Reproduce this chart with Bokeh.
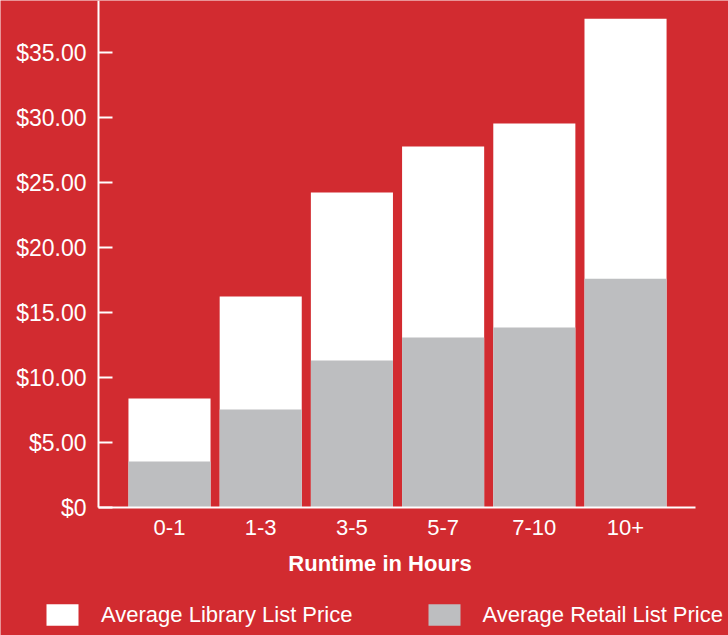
from bokeh.plotting import figure
from bokeh.models import Range1d, FixedTicker, Legend, LegendItem, Label, LinearAxis
from bokeh.embed import file_html
from bokeh.resources import INLINE

categories = ["0-1", "1-3", "3-5", "5-7", "7-10", "10+"]
library_price = [8.38, 16.23, 24.23, 27.77, 29.54, 37.6]
retail_price = [3.54, 7.54, 11.3, 13.08, 13.85, 17.6]
y_ticks = [0, 5, 10, 15, 20, 25, 30, 35]
y_tick_labels = ["$0", "$5.00", "$10.00", "$15.00", "$20.00", "$25.00", "$30.00", "$35.00"]

RED = "#D22B30"
GREY = "#BDBEC0"
FONT = "Liberation Sans"

xs = list(range(len(categories)))

# frame covers the whole canvas; axes are pinned inside it
X0, X1 = -1.853, 6.129
Y0, Y1 = -9.846, 39.0
X_AXIS_LEFT, X_AXIS_RIGHT = -0.7785, 5.7675

p = figure(width=728, height=635, output_backend="svg", toolbar_location=None,
           x_range=Range1d(X0, X1), y_range=Range1d(Y0, Y1),
           x_axis_location=None, y_axis_location=None)
p.min_border_left = 0
p.min_border_right = 0
p.min_border_top = 0
p.min_border_bottom = 0
p.background_fill_color = RED
p.border_fill_color = RED
p.outline_line_color = None
p.xgrid.grid_line_color = None
p.ygrid.grid_line_color = None

r_lib = p.vbar(x=xs, top=library_price, width=0.9, fill_color="white", line_color=None)
r_ret = p.vbar(x=xs, top=retail_price, width=0.9, fill_color=GREY, line_color=None)

ya = LinearAxis(fixed_location=X_AXIS_LEFT, bounds=(0, Y1))
ya.ticker = FixedTicker(ticks=y_ticks)
ya.major_label_overrides = {t: l for t, l in zip(y_ticks, y_tick_labels)}
ya.axis_line_color = "white"
ya.axis_line_width = 2
ya.major_tick_line_color = "white"
ya.major_tick_line_width = 2
ya.major_tick_in = 14
ya.major_tick_out = 0
ya.minor_tick_line_color = None
ya.major_label_standoff = 12
ya.major_label_text_color = "white"
ya.major_label_text_font = FONT
ya.major_label_text_font_size = "23px"
p.add_layout(ya, "left")

xa = LinearAxis(fixed_location=0, bounds=(X_AXIS_LEFT, X_AXIS_RIGHT))
xa.ticker = FixedTicker(ticks=xs)
xa.major_label_overrides = {i: c for i, c in zip(xs, categories)}
xa.axis_line_color = "white"
xa.axis_line_width = 2
xa.major_tick_line_color = None
xa.minor_tick_line_color = None
xa.major_tick_in = 0
xa.major_tick_out = 0
xa.major_label_standoff = 12
xa.major_label_text_color = "white"
xa.major_label_text_font = FONT
xa.major_label_text_font_size = "22px"
p.add_layout(xa, "below")

title = Label(x=379.5, y=72, x_units="screen", y_units="screen", text="Runtime in Hours",
              text_align="center", text_baseline="middle", text_color="white",
              text_font=FONT, text_font_size="22px", text_font_style="bold")
p.add_layout(title)

legend = Legend(items=[LegendItem(label="Average Library List Price", renderers=[r_lib]),
                       LegendItem(label="Average Retail List Price", renderers=[r_ret])],
                orientation="horizontal", location=(42, 7),
                padding=0, margin=0, spacing=71, label_standoff=19,
                glyph_width=40, glyph_height=27, label_height=27,
                background_fill_alpha=0, border_line_color=None,
                label_text_color="white", label_text_font=FONT, label_text_font_size="22px")
p.add_layout(legend, "center")

open("out.html", "w").write(file_html(p, INLINE))
